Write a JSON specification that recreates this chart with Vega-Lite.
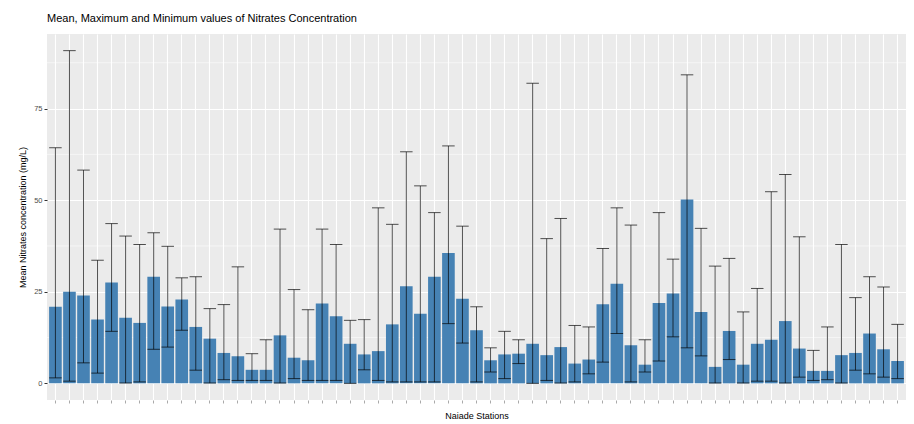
{
  "$schema": "https://vega.github.io/schema/vega-lite/v6.json",
  "width": 859,
  "height": 366,
  "autosize": {"type": "none"},
  "padding": {"left": 47, "top": 34, "right": 8, "bottom": 24},
  "background": "white",
  "title": {
    "text": "Mean, Maximum and Minimum values of Nitrates Concentration",
    "anchor": "start",
    "frame": "group",
    "fontSize": 11,
    "fontWeight": "normal",
    "font": "Liberation Sans",
    "color": "#000000",
    "offset": 10
  },
  "config": {
    "font": "Liberation Sans",
    "view": {"fill": "#EBEBEB", "stroke": null}
  },
  "datasets": {
    "stations": [
      {"station": "S01", "mean": 20.9, "min": 1.5, "max": 64.3},
      {"station": "S02", "mean": 25.0, "min": 0.6, "max": 90.8},
      {"station": "S03", "mean": 24.0, "min": 5.6, "max": 58.2},
      {"station": "S04", "mean": 17.4, "min": 2.8, "max": 33.6},
      {"station": "S05", "mean": 27.5, "min": 14.2, "max": 43.6},
      {"station": "S06", "mean": 17.9, "min": 0.1, "max": 40.2},
      {"station": "S07", "mean": 16.5, "min": 0.4, "max": 37.9},
      {"station": "S08", "mean": 29.1, "min": 9.3, "max": 41.1},
      {"station": "S09", "mean": 21.0, "min": 9.9, "max": 37.4},
      {"station": "S10", "mean": 22.9, "min": 14.5, "max": 28.8},
      {"station": "S11", "mean": 15.4, "min": 3.6, "max": 29.1},
      {"station": "S12", "mean": 12.2, "min": 0.1, "max": 20.4},
      {"station": "S13", "mean": 8.3, "min": 1.0, "max": 21.5},
      {"station": "S14", "mean": 7.4, "min": 0.8, "max": 31.8},
      {"station": "S15", "mean": 3.7, "min": 0.8, "max": 8.1},
      {"station": "S16", "mean": 3.7, "min": 0.8, "max": 11.9},
      {"station": "S17", "mean": 13.1, "min": 0.1, "max": 42.1},
      {"station": "S18", "mean": 7.0, "min": 1.3, "max": 25.6},
      {"station": "S19", "mean": 6.3, "min": 0.8, "max": 20.1},
      {"station": "S20", "mean": 21.8, "min": 0.8, "max": 42.1},
      {"station": "S21", "mean": 18.3, "min": 0.8, "max": 37.9},
      {"station": "S22", "mean": 10.8, "min": 0.0, "max": 17.2},
      {"station": "S23", "mean": 7.9, "min": 3.7, "max": 17.4},
      {"station": "S24", "mean": 8.8, "min": 0.8, "max": 47.9},
      {"station": "S25", "mean": 16.1, "min": 0.4, "max": 43.4},
      {"station": "S26", "mean": 26.5, "min": 0.4, "max": 63.2},
      {"station": "S27", "mean": 19.0, "min": 0.4, "max": 53.9},
      {"station": "S28", "mean": 29.1, "min": 0.4, "max": 46.6},
      {"station": "S29", "mean": 35.6, "min": 16.3, "max": 64.8},
      {"station": "S30", "mean": 23.1, "min": 11.0, "max": 42.9},
      {"station": "S31", "mean": 14.5, "min": 0.4, "max": 20.9},
      {"station": "S32", "mean": 6.3, "min": 3.1, "max": 9.7},
      {"station": "S33", "mean": 7.9, "min": 1.3, "max": 14.2},
      {"station": "S34", "mean": 8.1, "min": 5.4, "max": 11.9},
      {"station": "S35", "mean": 10.8, "min": 0.0, "max": 81.9},
      {"station": "S36", "mean": 7.7, "min": 0.8, "max": 39.5},
      {"station": "S37", "mean": 9.9, "min": 0.1, "max": 45.0},
      {"station": "S38", "mean": 5.4, "min": 0.4, "max": 15.8},
      {"station": "S39", "mean": 6.5, "min": 2.6, "max": 15.4},
      {"station": "S40", "mean": 21.6, "min": 5.8, "max": 36.8},
      {"station": "S41", "mean": 27.2, "min": 13.6, "max": 47.9},
      {"station": "S42", "mean": 10.4, "min": 0.4, "max": 43.2},
      {"station": "S43", "mean": 5.1, "min": 3.1, "max": 11.9},
      {"station": "S44", "mean": 21.9, "min": 6.1, "max": 46.6},
      {"station": "S45", "mean": 24.5, "min": 12.7, "max": 33.9},
      {"station": "S46", "mean": 50.2, "min": 9.7, "max": 84.2},
      {"station": "S47", "mean": 19.5, "min": 7.5, "max": 42.3},
      {"station": "S48", "mean": 4.5, "min": 0.1, "max": 32.0},
      {"station": "S49", "mean": 14.3, "min": 6.5, "max": 34.1},
      {"station": "S50", "mean": 5.1, "min": 0.1, "max": 19.5},
      {"station": "S51", "mean": 10.8, "min": 0.6, "max": 25.9},
      {"station": "S52", "mean": 11.9, "min": 0.6, "max": 52.3},
      {"station": "S53", "mean": 17.0, "min": 0.1, "max": 57.0},
      {"station": "S54", "mean": 9.5, "min": 1.7, "max": 40.0},
      {"station": "S55", "mean": 3.4, "min": 0.8, "max": 9.0},
      {"station": "S56", "mean": 3.4, "min": 1.0, "max": 15.4},
      {"station": "S57", "mean": 7.7, "min": 0.1, "max": 37.9},
      {"station": "S58", "mean": 8.3, "min": 3.6, "max": 23.4},
      {"station": "S59", "mean": 13.6, "min": 2.6, "max": 29.1},
      {"station": "S60", "mean": 9.3, "min": 1.7, "max": 26.3},
      {"station": "S61", "mean": 6.1, "min": 1.3, "max": 16.1}
    ],
    "minor": [{"v": 12.5}, {"v": 37.5}, {"v": 62.5}, {"v": 87.5}]
  },
  "layer": [
    {
      "data": {"name": "minor"},
      "mark": {"type": "rule", "stroke": "#FFFFFF", "strokeWidth": 0.55},
      "encoding": {
        "y": {"field": "v", "type": "quantitative", "scale": {"domain": [-4.54, 95.34], "nice": false, "zero": false}}
      }
    },
    {
      "data": {"name": "stations"},
      "mark": {"type": "bar", "fill": "#4682B4"},
      "encoding": {
        "x": {
          "field": "station",
          "type": "nominal",
          "sort": null,
          "scale": {"paddingInner": 0.1, "paddingOuter": 0.15},
          "axis": {
            "title": "Naiade Stations",
            "titleFontSize": 9,
            "titleFontWeight": "normal",
            "titleColor": "#000000",
            "titlePadding": 8,
            "labels": false,
            "ticks": true,
            "tickSize": 3,
            "tickColor": "#AAAAAA",
            "domain": false,
            "grid": true,
            "gridColor": "#FFFFFF",
            "gridWidth": 1.1,
            "bandPosition": 0.5
          }
        },
        "y": {
          "field": "mean",
          "type": "quantitative",
          "scale": {"domain": [-4.54, 95.34], "nice": false, "zero": false},
          "axis": {
            "title": "Mean Nitrates concentration (mg/L)",
            "titleFontSize": 9,
            "titleFontWeight": "normal",
            "titleColor": "#000000",
            "titlePadding": 6,
            "values": [0, 25, 50, 75],
            "labelFontSize": 7.5,
            "labelColor": "#4D4D4D",
            "labelPadding": 2,
            "tickSize": 3,
            "tickColor": "#333333",
            "domain": false,
            "grid": true,
            "gridColor": "#FFFFFF",
            "gridWidth": 1.1
          }
        },
        "y2": {"datum": 0}
      }
    },
    {
      "data": {"name": "stations"},
      "mark": {"type": "rule", "stroke": "#000000", "strokeOpacity": 0.68, "strokeWidth": 1},
      "encoding": {
        "x": {"field": "station", "type": "nominal", "sort": null},
        "y": {"field": "min", "type": "quantitative"},
        "y2": {"field": "max"}
      }
    },
    {
      "data": {"name": "stations"},
      "mark": {"type": "tick", "color": "#000000", "opacity": 0.68, "thickness": 1, "size": 12.5},
      "encoding": {
        "x": {"field": "station", "type": "nominal", "sort": null},
        "y": {"field": "max", "type": "quantitative"}
      }
    },
    {
      "data": {"name": "stations"},
      "mark": {"type": "tick", "color": "#000000", "opacity": 0.68, "thickness": 1, "size": 12.5},
      "encoding": {
        "x": {"field": "station", "type": "nominal", "sort": null},
        "y": {"field": "min", "type": "quantitative"}
      }
    }
  ]
}
